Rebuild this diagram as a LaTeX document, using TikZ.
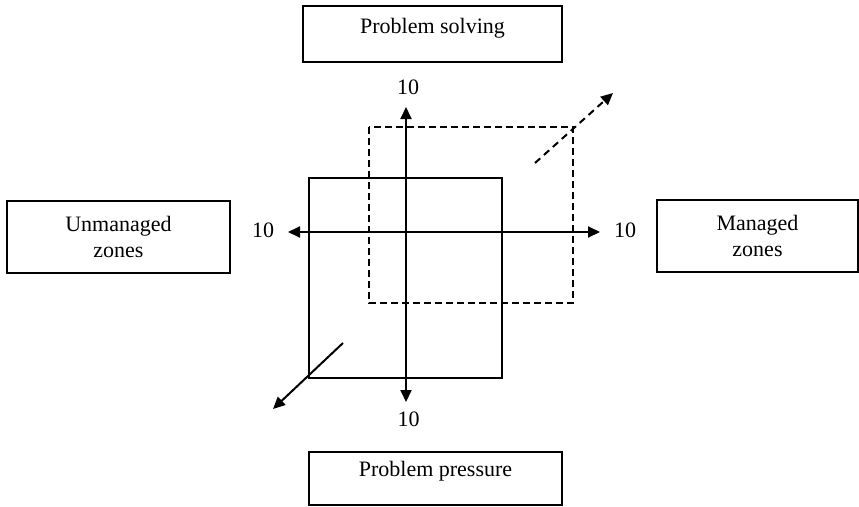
\documentclass[tikz,border=0pt]{standalone}
\usepackage{fontspec}
\setmainfont{Liberation Serif}
\usetikzlibrary{arrows.meta}
\begin{document}
\begin{tikzpicture}[x=1pt,y=-1pt,
  zonebox/.style={draw, line width=1.3pt, align=center, inner sep=0pt,
    font=\fontsize{22}{26}\selectfont},
  num/.style={inner sep=0pt, font=\fontsize{22}{26}\selectfont},
  tip/.style={Triangle[length=12pt,width=11pt]},
  axisline/.style={line width=2pt, {Triangle[length=12pt,width=11pt]}-{Triangle[length=12pt,width=11pt]}},
  diag/.style={line width=2pt, -{Triangle[length=12pt,width=11pt]}},
  diagdash/.style={line width=2pt, dash pattern=on 7pt off 5pt, -{Triangle[length=12pt,width=11pt]}},
  solidsq/.style={line width=1.5pt},
  dashsq/.style={line width=1.3pt, dash pattern=on 7pt off 4pt}]
\useasboundingbox (0,0) rectangle (859,506);

% label boxes
\node[zonebox, minimum width=259pt, minimum height=56pt, text height=14pt, text depth=16pt]
  (solving) at (432.5,34) {Problem solving};
\node[zonebox, minimum width=253pt, minimum height=53pt, text height=12pt, text depth=17pt]
  (pressure) at (435.5,478.5) {Problem pressure};
\node[zonebox, minimum width=223pt, minimum height=72pt]
  (unmanaged) at (118.5,237) {Unmanaged\\zones};
\node[zonebox, minimum width=201pt, minimum height=72pt]
  (managed) at (757.5,236) {Managed\\zones};

% squares
\draw[dashsq] (369,127) rectangle (573,303);
\draw[solidsq] (309,178) rectangle (502,378);

% axis end points and numbers
\coordinate (vtop) at (406,107);
\coordinate (vbot) at (406,402);
\coordinate (hleft) at (288,232);
\coordinate (hright) at (600,232);
\node[num] (ntop) at (408,87.5) {10};
\node[num] (nbot) at (408.5,419.5) {10};
\node[num] (nleft) at (263,230) {10};
\node[num] (nright) at (625,230) {10};

\draw[axisline] (vbot) -- (vtop);
\draw[axisline] (hleft) -- (hright);

% diagonal arrows
\coordinate (dstart) at (535,163);
\coordinate (dend) at (613,93);
\coordinate (sstart) at (343,343);
\coordinate (send) at (273,409);
\draw[diagdash] (dstart) -- (dend);
\draw[diag] (sstart) -- (send);
\end{tikzpicture}
\end{document}
